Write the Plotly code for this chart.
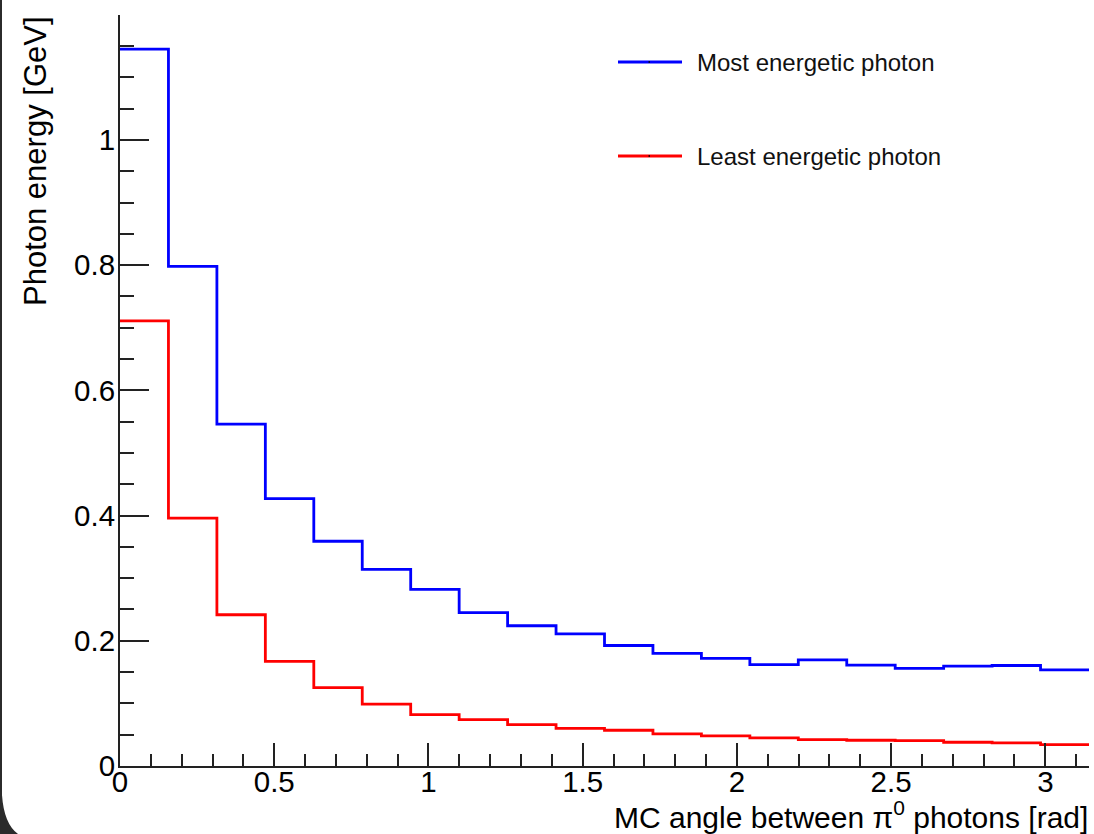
import numpy as np
import plotly.graph_objects as go

# --- data ---
n_bins = 20
x_min, x_max = 0.0, np.pi
most_energetic = [1.145, 0.798, 0.546, 0.427, 0.359, 0.314, 0.282, 0.245, 0.224, 0.211,
                  0.1925, 0.180, 0.172, 0.162, 0.1695, 0.161, 0.156, 0.1595, 0.1605, 0.1536]
least_energetic = [0.711, 0.396, 0.2416, 0.167, 0.1253, 0.0987, 0.0821, 0.0741, 0.0661, 0.0600,
                   0.0571, 0.0512, 0.048, 0.0448, 0.0421, 0.0411, 0.0405, 0.0379, 0.0368, 0.0341]
series_names = ["Most energetic photon", "Least energetic photon"]
series_colors = ["#0000ff", "#ff0000"]
x_tick_vals = [0, 0.5, 1, 1.5, 2, 2.5, 3]
x_tick_text = ["0", "0.5", "1", "1.5", "2", "2.5", "3"]
y_tick_vals = [0, 0.2, 0.4, 0.6, 0.8, 1.0]
y_tick_text = ["0", "0.2", "0.4", "0.6", "0.8", "1"]

W, H = 1094, 834
ML, MR, MT, MB = 120, 5, 15, 68
PW, PH = W - ML - MR, H - MT - MB
FONT = "Liberation Sans, Arial, Helvetica, sans-serif"

def px2paper_x(px):
    return (px - ML) / PW

def px2paper_y(py):
    return (H - MB - py) / PH

edges = np.linspace(x_min, x_max, n_bins + 1)

fig = go.Figure()
for vals, name, col in zip([most_energetic, least_energetic], series_names, series_colors):
    yv = list(vals) + [vals[-1]]
    fig.add_trace(go.Scatter(x=edges, y=yv, mode="lines", line=dict(color=col, width=2.8, shape="hv"),
                             name=name, showlegend=False, hoverinfo="skip"))

axis_common = dict(showgrid=False, zeroline=False, showline=True, linecolor="#222222", linewidth=2,
                   ticks="inside", tickcolor="#222222", tickwidth=1.6,
                   tickfont=dict(family=FONT, size=29.5, color="black"))

fig.update_xaxes(range=[x_min, x_max], tickvals=x_tick_vals, ticktext=x_tick_text, ticklen=23,
                 ticklabelstandoff=-11,
                 minor=dict(dtick=0.1, tick0=0, ticks="inside", ticklen=12, tickcolor="#222222", tickwidth=1.6),
                 **axis_common)
fig.update_yaxes(range=[0, 1.1995], tickvals=y_tick_vals, ticktext=y_tick_text, ticklen=29,
                 ticklabelstandoff=-3,
                 minor=dict(dtick=0.05, tick0=0, ticks="inside", ticklen=14, tickcolor="#222222", tickwidth=1.6),
                 **axis_common)

shapes = []
annotations = []
# manual legend
leg_y_px = [62, 156]
for name, col, ly in zip(series_names, series_colors, leg_y_px):
    shapes.append(dict(type="line", xref="paper", yref="paper",
                       x0=px2paper_x(618), x1=px2paper_x(682), y0=px2paper_y(ly), y1=px2paper_y(ly),
                       line=dict(color=col, width=3)))
    shapes.append(dict(type="rect", xref="paper", yref="paper",
                       x0=px2paper_x(648.5), x1=px2paper_x(650), y0=px2paper_y(ly - 0.7), y1=px2paper_y(ly + 0.7),
                       line=dict(width=0), fillcolor="black"))
    annotations.append(dict(text=name, xref="paper", yref="paper", x=px2paper_x(695), y=px2paper_y(ly),
                            xanchor="left", yanchor="middle", showarrow=False,
                            font=dict(family=FONT, size=24, color="#111111")))

# axis titles (ROOT style: aligned to the axis end)
annotations.append(dict(text="MC angle between π<sup>0</sup> photons [rad]", xref="paper", yref="paper",
                        x=px2paper_x(1090), y=px2paper_y(815), xanchor="right", yanchor="middle",
                        showarrow=False, font=dict(family=FONT, size=30, color="black")))
annotations.append(dict(text="Photon energy [GeV]", xref="paper", yref="paper",
                        x=px2paper_x(36), y=px2paper_y(14), xanchor="center", yanchor="top", textangle=-90,
                        showarrow=False, font=dict(family=FONT, size=31, color="black")))

# screenshot frame artifacts: dark left edge and rounded corner
shapes.append(dict(type="rect", xref="paper", yref="paper", x0=px2paper_x(0), x1=px2paper_x(2),
                   y0=px2paper_y(834), y1=px2paper_y(0), line=dict(width=0), fillcolor="#2b2b2b", layer="above"))
path = "M {:.5f},{:.5f} L {:.5f},{:.5f} Q {:.5f},{:.5f} {:.5f},{:.5f} L {:.5f},{:.5f} Z".format(
    px2paper_x(0), px2paper_y(790), px2paper_x(2), px2paper_y(795),
    px2paper_x(4), px2paper_y(824), px2paper_x(18), px2paper_y(834),
    px2paper_x(0), px2paper_y(834))
shapes.append(dict(type="path", xref="paper", yref="paper", path=path, line=dict(width=0),
                   fillcolor="#2b2b2b", layer="above"))

fig.update_layout(width=W, height=H, margin=dict(l=ML, r=MR, t=MT, b=MB, pad=0),
                  paper_bgcolor="white", plot_bgcolor="white", showlegend=False,
                  shapes=shapes, annotations=annotations, font=dict(family=FONT))

fig.write_html("out.html")
